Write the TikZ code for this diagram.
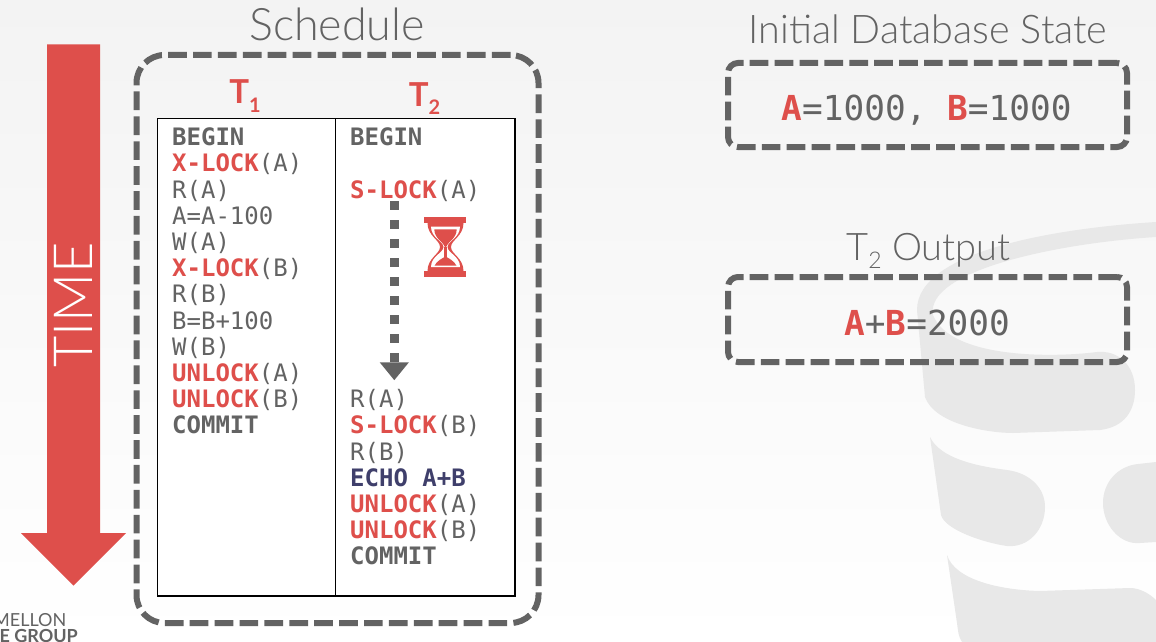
\documentclass[tikz,border=0pt]{standalone}
\usepackage{fontspec}
\setmainfont{Lato}
\setmonofont{DejaVu Sans Mono}
\newfontfamily\thinfont{Lato Light}
\usetikzlibrary{arrows.meta}

\definecolor{slidered}{HTML}{DE4F4B}
\definecolor{slidegray}{HTML}{636363}
\definecolor{slidenavy}{HTML}{3F3F6B}
\definecolor{markgray}{HTML}{E8E8E8}
\definecolor{bgtop}{HTML}{F3F3F3}

\newcommand{\redword}[1]{\textcolor{slidered}{\textbf{#1}}}
\newcommand{\lowidx}[1]{\raisebox{-9pt}{\fontsize{20}{20}\selectfont #1}}

\tikzset{
  dashbox/.style={draw=slidegray, line width=6pt, dash pattern=on 18.7pt off 6.2pt},
  colbox/.style={draw=black, line width=1.3pt, fill=white, minimum height=477.5pt},
  codeline/.style={anchor=base west, inner sep=0pt, text=slidegray, font=\ttfamily\fontsize{24}{26}\selectfont},
  statetext/.style={anchor=base, inner sep=0pt, text=slidegray, font=\ttfamily\fontsize{34.4}{36}\selectfont},
  titletext/.style={anchor=base, inner sep=0pt, text=slidegray, font=\thinfont\fontsize{39.5}{42}\selectfont},
  txntext/.style={anchor=base, inner sep=0pt, text=slidered, font=\bfseries\fontsize{33}{36}\selectfont},
  waitline/.style={draw=slidegray, line width=9pt, dash pattern=on 9pt off 10pt, -{Triangle[width=28pt,length=18pt]}}
}

\begin{document}
\begin{tikzpicture}[x=1pt, y=-1pt]
  \useasboundingbox (0,0) rectangle (1156,642);
  \clip (0,0) rectangle (1156,642);

  % background
  \shade[top color=bgtop, bottom color=white] (0,0) rectangle (1156,642);

  % watermark
  \fill[markgray] (1156,222) .. controls (1060,228) and (917,250) .. (917,310)
    -- (925,397) .. controls (935,425) and (990,433) .. (1013,433) -- (1100,430)
    .. controls (1125,427) and (1135,410) .. (1135,390)
    .. controls (1135,365) and (1118,350) .. (1097,352)
    .. controls (1050,358) and (950,358) .. (933,315)
    .. controls (925,270) and (1060,243) .. (1156,237) -- cycle;
  \fill[markgray] (930,437) .. controls (940,458) and (975,466) .. (1007,470)
    .. controls (1030,473) and (1045,488) .. (1045,507)
    .. controls (1045,530) and (1028,548) .. (1007,546)
    .. controls (985,543) and (945,530) .. (941,515) -- cycle;
  \fill[markgray] (1156,462) -- (1138,464) .. controls (1118,466) and (1103,482) .. (1103,503)
    .. controls (1103,525) and (1120,545) .. (1140,543) -- (1156,542) -- cycle;
  \fill[markgray] (947,555) .. controls (955,580) and (1000,590) .. (1040,591)
    -- (1130,588) .. controls (1140,588) and (1150,594) .. (1156,600)
    -- (1156,642) -- (962,642) .. controls (958,636) and (958,630) .. (957,623) -- cycle;

  % time arrow
  \fill[slidered] (47,44.5) -- (100,44.5) -- (100,533) -- (126,533)
    -- (73.5,585.5) -- (21,533) -- (47,533) -- cycle;
  \node[rotate=90, inner sep=0pt, text=white, font=\thinfont\fontsize{54}{54}\selectfont] (timelabel) at (73,305) {TIME};

  % logo
  \node[anchor=base east, inner sep=0pt, text=slidegray, font=\fontsize{18}{18}\selectfont] (logotop) at (66.5,626) {MELLON};
  \node[anchor=base east, inner sep=0pt, text=slidegray, font=\bfseries\fontsize{18}{18}\selectfont] (logobot) at (78,642) {E GROUP};

  % schedule
  \node[titletext, font=\thinfont\fontsize{44.8}{46}\selectfont] (schedtitle) at (337,41) {Schedule};
  \node[dashbox, rounded corners=28pt, minimum width=402pt, minimum height=568pt] (schedbox) at (337.5,339) {};
  \node[txntext] (t1name) at (245,103) {T\lowidx{1}};
  \node[txntext] (t2name) at (424.5,106) {T\lowidx{2}};
  \node[colbox, minimum width=178pt] (t1col) at (246.5,357.3) {};
  \node[colbox, minimum width=179.5pt] (t2col) at (425.25,357.3) {};

  % T1
  \node[codeline] (a1) at (172,145.7) {\textbf{BEGIN}};
  \node[codeline] (a2) at (172,171.9) {\redword{X-LOCK}(A)};
  \node[codeline] (a3) at (172,198.1) {R(A)};
  \node[codeline] (a4) at (172,224.3) {A=A-100};
  \node[codeline] (a5) at (172,250.5) {W(A)};
  \node[codeline] (a6) at (172,276.7) {\redword{X-LOCK}(B)};
  \node[codeline] (a7) at (172,302.9) {R(B)};
  \node[codeline] (a8) at (172,329.1) {B=B+100};
  \node[codeline] (a9) at (172,355.3) {W(B)};
  \node[codeline] (a10) at (172,381.5) {\redword{UNLOCK}(A)};
  \node[codeline] (a11) at (172,407.7) {\redword{UNLOCK}(B)};
  \node[codeline] (a12) at (172,433.9) {\textbf{COMMIT}};

  % T2
  \node[codeline] (b1) at (350,145.7) {\textbf{BEGIN}};
  \node[codeline] (b2) at (350,198.1) {\redword{S-LOCK}(A)};
  \node[codeline] (b3) at (350,407.7) {R(A)};
  \node[codeline] (b4) at (350,433.9) {\redword{S-LOCK}(B)};
  \node[codeline] (b5) at (350,460.1) {R(B)};
  \node[codeline] (b6) at (350,486.3) {\textcolor{slidenavy}{\textbf{ECHO A+B}}};
  \node[codeline] (b7) at (350,512.5) {\redword{UNLOCK}(A)};
  \node[codeline] (b8) at (350,538.7) {\redword{UNLOCK}(B)};
  \node[codeline] (b9) at (350,564.9) {\textbf{COMMIT}};

  % waiting
  \draw[waitline] ([xshift=44.3pt]b2.south west) -- ([xshift=44.3pt, yshift=9pt]b3.north west);

  % hourglass
  \fill[slidered] (424.3,217.3) rectangle (466.3,223);
  \fill[slidered] (424.3,271) rectangle (466.3,276.7);
  \fill[slidered] (427.5,223) .. controls (427.5,236) and (440,240) .. (440,247)
    .. controls (440,254) and (427.5,258) .. (427.5,271) -- (463.5,271)
    .. controls (463.5,258) and (451,254) .. (451,247)
    .. controls (451,240) and (463.5,236) .. (463.5,223) -- cycle;
  \fill[white] (431,226.5) -- (460,226.5) .. controls (460,238) and (447.5,241) .. (447.5,247)
    .. controls (447.5,253) and (460,256) .. (460,267) -- (431,267)
    .. controls (431,256) and (443.5,253) .. (443.5,247)
    .. controls (443.5,241) and (431,238) .. (431,226.5) -- cycle;
  \fill[slidered] (434.3,229.3) -- (456.7,229.3) .. controls (456.7,239) and (447,242) .. (445.5,248)
    .. controls (444,242) and (434.3,239) .. (434.3,229.3) -- cycle;
  \fill[slidered] (444.2,247) rectangle (446.8,258);
  \fill[slidered] (434.5,265.7) .. controls (437,260.5) and (443,258) .. (445.5,256.5)
    .. controls (448,258) and (454,260.5) .. (456.5,265.7) -- cycle;

  % database state
  \node[titletext] (inittitle) at (928,44) {Initial Database State};
  \node[dashbox, rounded corners=10pt, minimum width=399pt, minimum height=84pt] (initbox) at (927.5,105) {};
  \node[statetext] (initval) at (926.5,120) {\redword{A}=1000,\ \redword{B}=1000};

  % output
  \node[titletext, font=\thinfont\fontsize{38}{40}\selectfont] (outtitle) at (928.5,260) {T\raisebox{-8pt}{\fontsize{23}{23}\selectfont 2} Output};
  \node[dashbox, rounded corners=10pt, minimum width=399pt, minimum height=85pt] (outbox) at (927.5,319.5) {};
  \node[statetext] (outval) at (927,335) {\redword{A}+\redword{B}=2000};
\end{tikzpicture}
\end{document}
